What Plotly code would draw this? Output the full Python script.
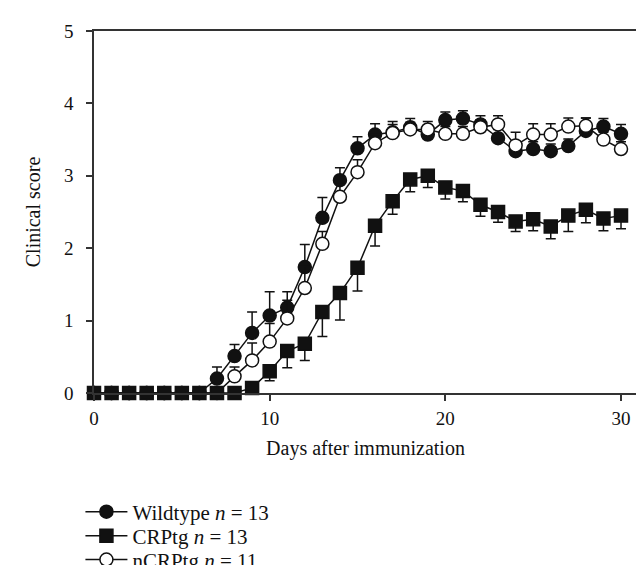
import plotly.graph_objects as go

days = list(range(0, 31))

wt_mean = [0, 0, 0, 0, 0, 0, 0, 0.20, 0.51, 0.83, 1.07, 1.18, 1.74, 2.42, 2.94, 3.38, 3.57, 3.60, 3.67, 3.57,
           3.77, 3.79, 3.71, 3.52, 3.34, 3.37, 3.34, 3.41, 3.62, 3.68, 3.58]
wt_err = [0, 0, 0, 0, 0, 0, 0, 0.16, 0.16, 0.29, 0.33, 0.22, 0.31, 0.28, 0.17, 0.16, 0.15, 0.15, 0.12, 0.10,
          0.11, 0.11, 0.12, 0.12, 0.10, 0.10, 0.10, 0.10, 0.18, 0.11, 0.13]

crp_mean = [0, 0, 0, 0, 0, 0, 0, 0, 0, 0.07, 0.30, 0.58, 0.68, 1.12, 1.38, 1.73, 2.31, 2.65, 2.95, 3.00,
            2.84, 2.79, 2.60, 2.50, 2.37, 2.40, 2.30, 2.45, 2.53, 2.41, 2.45]
crp_err = [0, 0, 0, 0, 0, 0, 0, 0, 0, 0, 0.13, 0.23, 0.23, 0.34, 0.37, 0.32, 0.28, 0.18, 0.17, 0.16,
           0.16, 0.15, 0.16, 0.14, 0.14, 0.16, 0.17, 0.22, 0.18, 0.17, 0.18]

ncrp_mean = [0, 0, 0, 0, 0, 0, 0, 0, 0.23, 0.45, 0.71, 1.03, 1.45, 2.06, 2.71, 3.05, 3.45, 3.59, 3.64, 3.64,
             3.58, 3.58, 3.67, 3.71, 3.42, 3.57, 3.57, 3.68, 3.69, 3.50, 3.37]
ncrp_err = [0, 0, 0, 0, 0, 0, 0, 0, 0.13, 0.24, 0.25, 0.25, 0.30, 0.17, 0.17, 0.17, 0.12, 0.12, 0.10, 0.11,
            0.10, 0.10, 0.10, 0.12, 0.18, 0.15, 0.15, 0.12, 0.11, 0.10, 0.10]

x_ticks = [0, 10, 20, 30]
y_ticks = [0, 1, 2, 3, 4, 5]

FONT = "Liberation Serif"
BLACK = "#111111"

fig = go.Figure()

def add_series(name, y, err, symbol, fill, size, up, legend):
    zeros = [0] * len(err)
    fig.add_trace(go.Scatter(
        x=days, y=y, name=name, mode="lines+markers", legend=legend,
        line=dict(color=BLACK, width=1.5),
        marker=dict(symbol=symbol, size=size, color=fill, line=dict(color=BLACK, width=1.5)),
        error_y=dict(type="data", symmetric=False,
                     array=err if up else zeros,
                     arrayminus=zeros if up else err,
                     color=BLACK, thickness=1.5, width=5),
        cliponaxis=False,
    ))

add_series("Wildtype <i>n</i> = 13", wt_mean, wt_err, "circle", BLACK, 13, True, "legend")
add_series("nCRPtg <i>n</i> = 11", ncrp_mean, ncrp_err, "circle", "white", 13, True, "legend3")
add_series("CRPtg <i>n</i> = 13", crp_mean, crp_err, "square", BLACK, 13, False, "legend2")

fig.add_shape(type="line", xref="paper", yref="paper", x0=1, x1=1, y0=0, y1=1,
              line=dict(color="#888888", width=1))

def leg(yc):
    return dict(x=-0.025, y=yc, xanchor="left", yanchor="middle",
                font=dict(family=FONT, size=21, color=BLACK),
                itemwidth=42, bgcolor="rgba(0,0,0,0)")

fig.update_layout(
    width=644, height=565,
    margin=dict(l=86, r=15, t=23, b=180, autoexpand=False),
    paper_bgcolor="white", plot_bgcolor="white",
    font=dict(family=FONT, size=19, color=BLACK),
    showlegend=True,
    legend=leg(-0.3290),
    legend2=leg(-0.3950),
    legend3=leg(-0.4610),
    xaxis=dict(range=[0, 30.91], tickvals=x_ticks, ticks="outside", ticklen=6, tickwidth=1.5,
               tickcolor="#333333", showline=True, linecolor="#333333", linewidth=1.5,
               mirror=True, showgrid=False, zeroline=False, automargin=False,
               ticklabelstandoff=1,
               title=dict(text="Days after immunization", font=dict(size=20), standoff=13)),
    yaxis=dict(range=[0, 5], tickvals=y_ticks, ticks="outside", ticklen=6, tickwidth=1.5,
               tickcolor="#333333", showline=True, linecolor="#333333", linewidth=1.5,
               showgrid=False, zeroline=False, automargin=False,
               ticklabelstandoff=9,
               title=dict(text="Clinical score", font=dict(size=20), standoff=18)),
)

fig.write_html("out.html")
